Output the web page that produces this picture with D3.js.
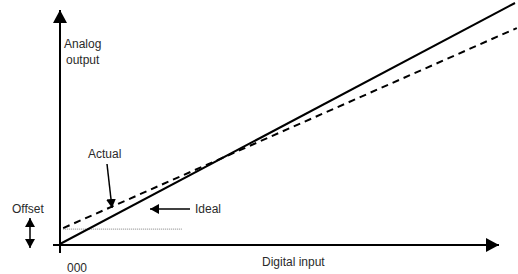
<!DOCTYPE html>
<html>
<head>
<meta charset="utf-8">
<script src="https://cdn.jsdelivr.net/npm/d3@7"></script>
<style>
  body { margin: 0; background: #fff; }
  text { font-family: "Liberation Sans", Arial, sans-serif; font-size: 12px; fill: #2a2a2a; }
</style>
</head>
<body>
<div id="chart"></div>
<script>
// transfer curves, in percent of full scale
const ideal = [{ x: 0, y: 0 }, { x: 100, y: 100 }];
const actual = [{ x: 0.7, y: 6.6 }, { x: 100.4, y: 89.6 }];
const offsetLevel = [{ x: 0.7, y: 6.2 }, { x: 26.8, y: 6.2 }];

const width = 518, height = 274;

const svg = d3.select("#chart")
  .append("svg")
  .attr("width", width)
  .attr("height", height);

const x = d3.scaleLinear().domain([0, 100]).range([60, 515]);
const y = d3.scaleLinear().domain([0, 100]).range([244, 3]);

const defs = svg.append("defs");
function arrowMarker(id, w, h) {
  defs.append("marker")
    .attr("id", id)
    .attr("viewBox", `0 0 ${w} ${h}`)
    .attr("refX", w)
    .attr("refY", h / 2)
    .attr("markerWidth", w)
    .attr("markerHeight", h)
    .attr("markerUnits", "userSpaceOnUse")
    .attr("orient", "auto-start-reverse")
    .append("path")
    .attr("d", `M0,0L${w},${h / 2}L0,${h}Z`)
    .attr("fill", "#000");
}
arrowMarker("axisHead", 13, 14);
arrowMarker("smallHead", 9, 10);

// axes
svg.append("line")
  .attr("x1", x(0)).attr("y1", 253)
  .attr("x2", x(0)).attr("y2", 10)
  .attr("stroke", "#000").attr("stroke-width", 2)
  .attr("marker-end", "url(#axisHead)");

svg.append("line")
  .attr("x1", 53).attr("y1", y(0) + 1)
  .attr("x2", 499).attr("y2", y(0) + 1)
  .attr("stroke", "#000").attr("stroke-width", 2)
  .attr("marker-end", "url(#axisHead)");

const line = d3.line().x(d => x(d.x)).y(d => y(d.y));

svg.append("path")
  .datum(offsetLevel)
  .attr("d", line)
  .attr("fill", "none")
  .attr("stroke", "#999")
  .attr("stroke-width", 1.2)
  .attr("stroke-dasharray", "1,1");

svg.append("path")
  .datum(ideal)
  .attr("d", line)
  .attr("fill", "none")
  .attr("stroke", "#000")
  .attr("stroke-width", 2);

svg.append("path")
  .datum(actual)
  .attr("d", line)
  .attr("fill", "none")
  .attr("stroke", "#000")
  .attr("stroke-width", 2)
  .attr("stroke-dasharray", "7,5");

// labels
const label = (tx, ty, s) => svg.append("text").attr("x", tx).attr("y", ty).text(s);
label(64, 48, "Analog");
label(66, 64, "output");
label(262, 266, "Digital input");
label(67, 272, "000");
label(88, 158, "Actual");
label(195, 213, "Ideal");
label(12, 213, "Offset");

// annotation arrows
svg.append("line")
  .attr("x1", 107).attr("y1", 164)
  .attr("x2", 112).attr("y2", 208)
  .attr("stroke", "#000").attr("stroke-width", 1.5)
  .attr("marker-end", "url(#smallHead)");

svg.append("line")
  .attr("x1", 190).attr("y1", 209)
  .attr("x2", 150).attr("y2", 209)
  .attr("stroke", "#000").attr("stroke-width", 1.5)
  .attr("marker-end", "url(#smallHead)");

svg.append("line")
  .attr("x1", 30).attr("y1", 218)
  .attr("x2", 30).attr("y2", 248)
  .attr("stroke", "#000").attr("stroke-width", 1.5)
  .attr("marker-start", "url(#smallHead)")
  .attr("marker-end", "url(#smallHead)");
</script>
</body>
</html>
